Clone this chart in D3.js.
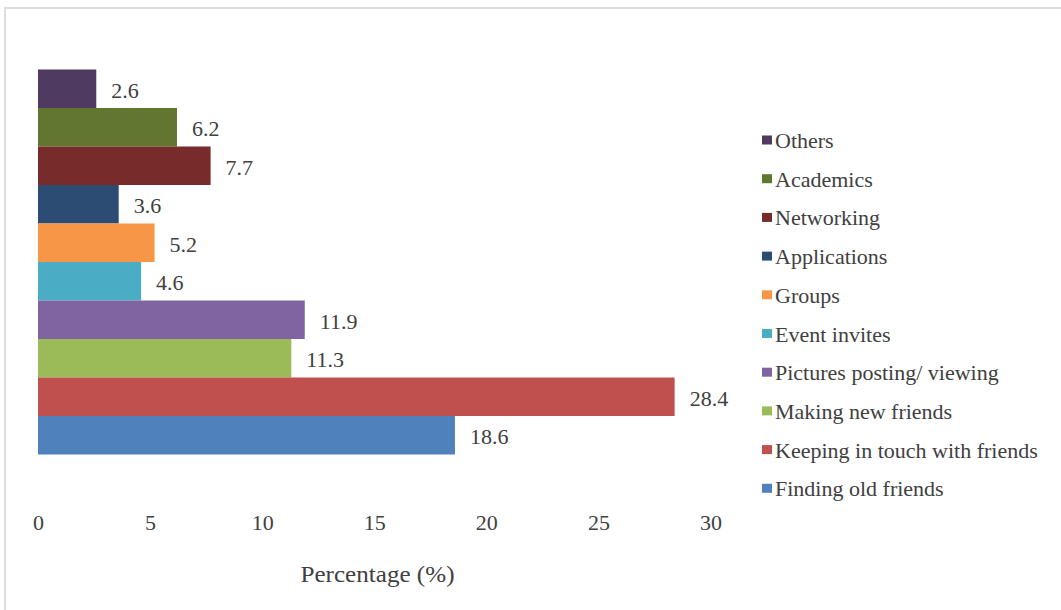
<!DOCTYPE html>
<html>
<head>
<meta charset="utf-8">
<script src="https://cdn.jsdelivr.net/npm/d3@7"></script>
<style>
  html, body { margin: 0; padding: 0; background: #fff; }
  #chart text { fill: #404040; }
</style>
</head>
<body>
<svg id="chart" width="1061" height="610"></svg>
<script>
// Purposes of social network use, top to bottom
const categories = [
  "Others", "Academics", "Networking", "Applications", "Groups",
  "Event invites", "Pictures posting/ viewing", "Making new friends",
  "Keeping in touch with friends", "Finding old friends"
];
const values = [2.6, 6.2, 7.7, 3.6, 5.2, 4.6, 11.9, 11.3, 28.4, 18.6];
const colors = [
  "#4f3b61", "#61762f", "#772b2b", "#2c4c74", "#f79646",
  "#4bacc6", "#8064a2", "#9bbb59", "#c0504d", "#4f81bd"
];
const xTicks = [0, 5, 10, 15, 20, 25, 30];
const xTitle = "Percentage (%)";

const FONT = "Times New Roman, Times, Tinos, Liberation Serif, Noto Serif, DejaVu Serif, serif";
const FS = 22;
const svg = d3.select("#chart").style("font-family", FONT);

// frame
svg.append("path")
  .attr("d", "M5,610 V8 H1061")
  .attr("fill", "none")
  .attr("stroke", "#dedede")
  .attr("stroke-width", 2);

const x = d3.scaleLinear().domain([0, 30]).range([38, 710.5]);
const y = d3.scaleBand().domain(categories).range([69.5, 454.5]).padding(0);

const data = categories.map((c, i) => ({ name: c, value: values[i], color: colors[i] }));

// bars
svg.append("g").selectAll("rect")
  .data(data)
  .join("rect")
  .attr("x", x(0))
  .attr("y", d => y(d.name))
  .attr("width", d => x(d.value) - x(0))
  .attr("height", y.bandwidth())
  .attr("fill", d => d.color);

// value labels
svg.append("g").selectAll("text")
  .data(data)
  .join("text")
  .attr("x", d => x(d.value) + 15)
  .attr("y", d => y(d.name) + y.bandwidth() / 2 + 9)
  .style("font-family", FONT)
  .attr("font-size", FS)
  .text(d => d.value.toFixed(1));

// x axis (labels only)
const xAxis = d3.axisBottom(x).tickValues(xTicks).tickSize(0).tickPadding(0);
const gx = svg.append("g").attr("transform", "translate(0,530)").call(xAxis);
gx.attr("font-family", null).style("font-family", FONT);
gx.select(".domain").remove();
gx.selectAll("text")
  .style("font-family", FONT)
  .attr("font-size", FS)
  .attr("fill", "#404040")
  .attr("dy", 0);

svg.append("text")
  .attr("x", 377.5)
  .attr("y", 582)
  .attr("text-anchor", "middle")
  .style("font-family", FONT)
  .attr("font-size", 23)
  .attr("textLength", 154)
  .attr("lengthAdjust", "spacingAndGlyphs")
  .text(xTitle);

// legend
const legend = svg.append("g").selectAll("g")
  .data(data)
  .join("g")
  .attr("transform", (d, i) => `translate(762,${148 + i * 38.7})`);
legend.append("rect")
  .attr("x", 0).attr("y", -12.5)
  .attr("width", 10).attr("height", 9)
  .attr("fill", d => d.color);
legend.append("text")
  .attr("x", 13).attr("y", 0)
  .style("font-family", FONT)
  .attr("font-size", FS)
  .text(d => d.name);
</script>
</body>
</html>
